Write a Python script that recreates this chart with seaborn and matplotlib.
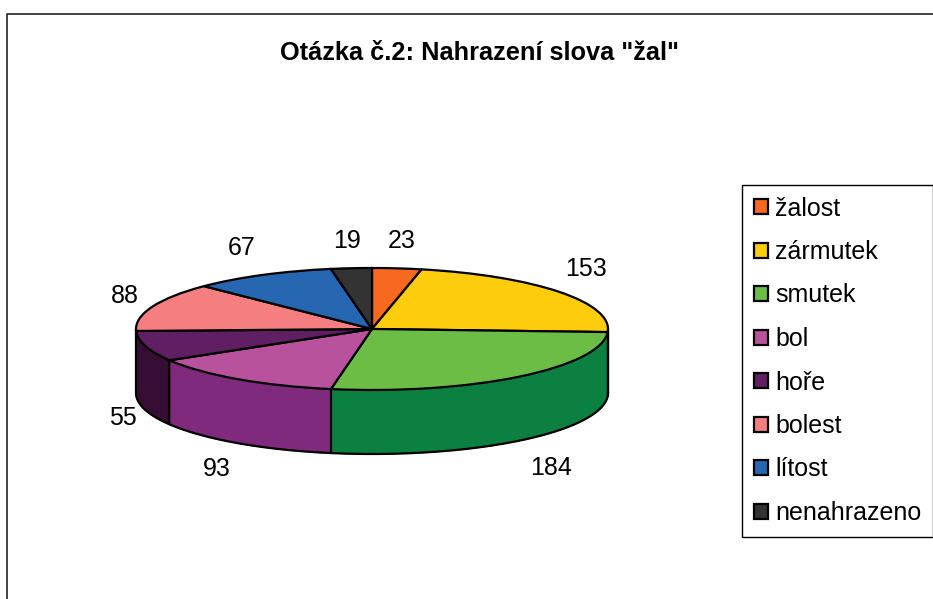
import numpy as np
import matplotlib
matplotlib.use('Agg')
import matplotlib.pyplot as plt
import seaborn as sns

# hodnoty z grafu
kategorie = ['žalost', 'zármutek', 'smutek', 'bol', 'hoře', 'bolest', 'lítost', 'nenahrazeno']
hodnoty = [23, 153, 184, 93, 55, 88, 67, 19]
barvy = ['#F76820', '#FDCC0D', '#6BBD45', '#B8529C', '#601F63', '#F57E80', '#2767B2', '#333333']
barvy_bok = ['#A33F10', '#B08D00', '#0C8040', '#7F2A7C', '#360E33', '#A85050', '#15407A', '#1A1A1A']

W, H = 933, 599
CX, CY = 372, 329      # stred elipsy v pixelech
A, B = 236, 61         # poloosy
HLOUBKA = 64

sns.set_theme(style='white')
plt.rcParams['font.family'] = ['Liberation Sans', 'DejaVu Sans']

fig = plt.figure(figsize=(W / 100, H / 100), dpi=100)
ax = fig.add_axes([0, 0, 1, 1])


def px(x, y):
    # pixely obrazku -> data
    return (x - CX) / A, (CY - y) / B


# bocni stena: vrstvy kolace pod sebou
for d in np.arange(HLOUBKA, 0, -1.0):
    vrstva, _ = ax.pie(hodnoty, colors=barvy_bok, startangle=90, counterclock=False,
                       center=(0, -d / B), wedgeprops={'linewidth': 1.0})
    for w in vrstva:
        w.set_edgecolor(w.get_facecolor())

# spodni obrys a svisle hrany
t = np.radians(np.linspace(180, 360, 200))
ax.plot(np.cos(t), np.sin(t) - HLOUBKA / B, color='black', lw=1.6)
uhly = 90 - np.cumsum(hodnoty) / sum(hodnoty) * 360
for u in list(uhly) + [0, 180]:
    s, c = np.sin(np.radians(u)), np.cos(np.radians(u))
    if s <= 0.001 and abs(c) < 0.999 or u in (0, 180):
        ax.plot([c, c], [s, s - HLOUBKA / B], color='black', lw=1.6)

# horni plocha
wedges, _ = ax.pie(hodnoty, colors=barvy, startangle=90, counterclock=False,
                   wedgeprops={'linewidth': 1.6, 'edgecolor': 'black'})

ax.set_aspect('auto')
ax.set_xlim(px(0, 0)[0], px(W, 0)[0])
ax.set_ylim(px(0, H)[1], px(0, 0)[1])
ax.axis('on')
ax.set_frame_on(False)
ax.set_xticks([])
ax.set_yticks([])

# popisky hodnot
pozice = [(402, 241), (586, 269), (551, 468), (217, 469), (123, 418), (125, 296), (242, 248), (347, 241)]
for h, (x, y) in zip(hodnoty, pozice):
    xd, yd = px(x, y)
    ax.text(xd, yd, str(h), ha='center', va='center', fontsize=18, color='black')

fig.text(479 / W, 1 - 53 / H, 'Otázka č.2: Nahrazení slova "žal"', ha='center', va='center',
         fontsize=18.3, fontweight='bold', color='black')

# ramecek grafu
fig.add_artist(plt.Line2D([7.5 / W, 7.5 / W, 1], [0, 1 - 14 / H, 1 - 14 / H], color='#222222', lw=1.2))

leg = fig.legend(wedges, kategorie, loc='upper left', bbox_to_anchor=(742 / W, 1 - 185 / H),
                 frameon=True, fontsize=18, fancybox=False, edgecolor='black', framealpha=1,
                 labelcolor='black', handlelength=0.56, handleheight=0.56, handletextpad=0.32,
                 labelspacing=0.78, borderpad=0.46, borderaxespad=0)
leg.get_frame().set_linewidth(1.0)

fig.savefig('out.png', dpi=100, facecolor='white')
